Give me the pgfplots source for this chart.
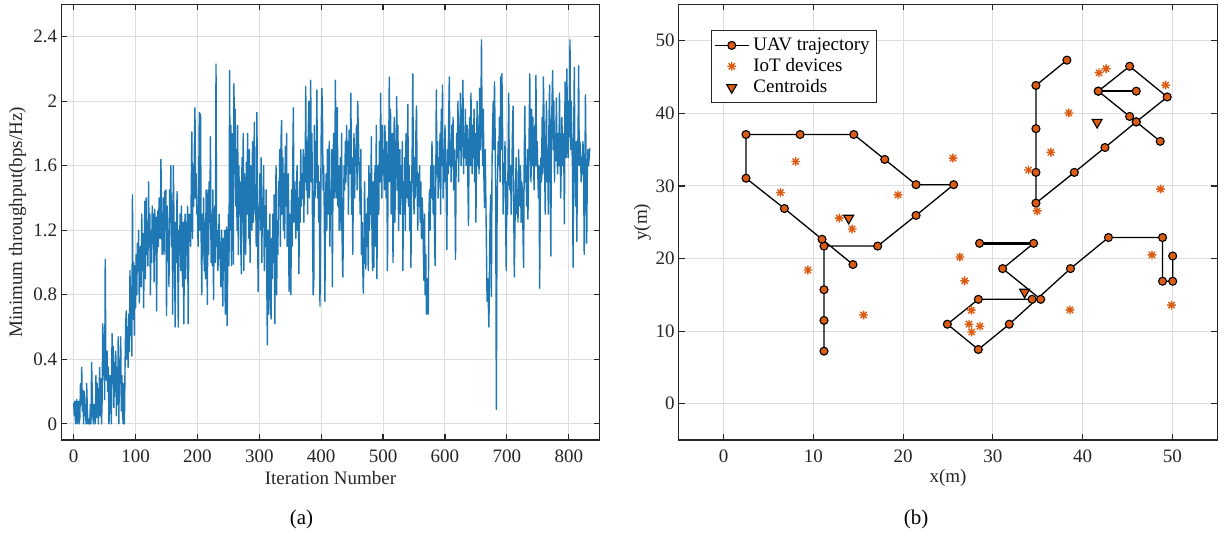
\documentclass[border=0pt]{standalone}
\usepackage{fontspec}
\setmainfont{Liberation Serif}
\usepackage{pgfplots}
\pgfplotsset{compat=1.18}
\usepackage{pgfplotstable}
\definecolor{matblue}{RGB}{31,119,180}
\definecolor{matorange}{RGB}{219,92,20}
\definecolor{axgray}{RGB}{38,38,38}
\definecolor{gridgray}{RGB}{222,222,222}

\pgfdeclareplotmark{ast8}{%
 \pgfpathmoveto{\pgfqpoint{-\pgfplotmarksize}{0pt}}\pgfpathlineto{\pgfqpoint{\pgfplotmarksize}{0pt}}%
 \pgfpathmoveto{\pgfqpoint{0pt}{-\pgfplotmarksize}}\pgfpathlineto{\pgfqpoint{0pt}{\pgfplotmarksize}}%
 \pgfpathmoveto{\pgfqpoint{-0.707\pgfplotmarksize}{-0.707\pgfplotmarksize}}\pgfpathlineto{\pgfqpoint{0.707\pgfplotmarksize}{0.707\pgfplotmarksize}}%
 \pgfpathmoveto{\pgfqpoint{-0.707\pgfplotmarksize}{0.707\pgfplotmarksize}}\pgfpathlineto{\pgfqpoint{0.707\pgfplotmarksize}{-0.707\pgfplotmarksize}}%
 \pgfusepathqstroke}

\pgfplotstableread[row sep=\\]{
y\\
0.13\\0.05\\0.14\\0\\0.08\\0.15\\0\\0.1\\0.14\\0\\
0.04\\0.25\\0.12\\0.35\\0.08\\0.21\\0\\0.2\\0.05\\0.12\\
0\\0.25\\0.1\\0\\0.03\\0\\0\\0.12\\0\\0.38\\
0.2\\0.05\\0\\0.12\\0.1\\0\\0.3\\0.04\\0.25\\0.1\\
0\\0.18\\0.35\\0.05\\0.28\\0\\0.15\\0.62\\0.3\\0.55\\
0.15\\1.02\\0.4\\0.27\\0.45\\0.2\\0.35\\0\\0.1\\0.3\\
0.18\\0\\0.56\\0.25\\0.48\\0.1\\0.38\\0.2\\0.45\\0.05\\
0.35\\0.12\\0.54\\0\\0.4\\0.25\\0.54\\0.08\\0.3\\0.06\\
0\\0.25\\0\\0.35\\0.62\\0.7\\0.4\\0.6\\0.35\\0.68\\
0.45\\0.95\\0.55\\0.85\\0.42\\1.42\\0.65\\1.0\\0.55\\0.98\\
0.72\\1.05\\0.8\\1.12\\0.95\\1.2\\0.75\\1.0\\1.1\\0.85\\
1.3\\0.95\\1.18\\0.72\\1.05\\1.38\\0.9\\1.4\\1.05\\1.25\\
0.98\\1.5\\1.1\\1.3\\0.8\\1.2\\1.0\\1.35\\1.12\\1.3\\
0.88\\1.33\\1.05\\1.28\\0.7\\1.2\\1.32\\1.1\\1.4\\1.25\\
1.15\\1.64\\1.3\\1.05\\1.15\\1.4\\1.05\\1.44\\1.2\\1.45\\
0.67\\1.35\\1.1\\1.2\\0.85\\1.45\\1.25\\1.6\\1.1\\1.38\\
0.68\\1.6\\1.3\\1.05\\0.6\\1.25\\1.0\\1.44\\1.15\\0.6\\
1.2\\1.05\\1.3\\0.95\\1.35\\1.15\\0.85\\1.25\\0.62\\1.12\\
1.3\\0.9\\1.25\\1.05\\1.35\\0.62\\1.15\\1.3\\1.2\\1.1\\
1.45\\1.81\\1.15\\1.6\\1.35\\1.7\\1.96\\1.4\\1.55\\1.3\\
1.35\\1.1\\1.45\\1.93\\1.2\\1.92\\1.15\\0.8\\1.3\\1.05\\
1.4\\0.95\\1.25\\0.9\\1.45\\1.2\\0.74\\1.45\\1.05\\1.5\\
1.25\\1.78\\1.0\\1.3\\0.98\\1.45\\0.77\\1.25\\1.35\\1.0\\
2.23\\1.1\\1.2\\0.95\\1.05\\1.3\\1.1\\1.0\\0.85\\1.2\\
1.05\\0.73\\1.15\\0.95\\1.2\\0.68\\1.1\\1.22\\0.61\\1.0\\
1.3\\0.98\\2.19\\1.2\\1.85\\0.98\\1.8\\1.4\\0.99\\2.11\\
1.55\\1.95\\1.35\\1.7\\1.2\\1.85\\1.05\\1.6\\1.3\\1.5\\
1.1\\0.93\\1.65\\1.25\\1.8\\0.95\\1.55\\1.4\\1.05\\1.62\\
1.3\\1.8\\1.5\\1.15\\1.7\\1.0\\1.6\\1.35\\1.2\\1.75\\
1.25\\1.55\\1.87\\1.3\\1.45\\1.1\\1.93\\1.45\\0.82\\1.3\\
1.3\\1.55\\1.2\\1.65\\1.0\\1.4\\1.22\\1.6\\0.95\\1.35\\
1.1\\1.45\\0.9\\0.49\\1.2\\0.68\\1.05\\1.3\\0.75\\0.65\\
1.15\\0.9\\1.3\\1.0\\1.42\\0.62\\1.2\\1.6\\0.8\\1.25\\
1.05\\1.5\\1.35\\1.7\\1.1\\1.75\\1.88\\1.3\\1.65\\1.2\\
1.55\\1.15\\1.72\\1.35\\1.8\\1.1\\1.4\\1.55\\0.82\\1.3\\
1.2\\0.8\\1.45\\1.1\\1.6\\1.96\\1.25\\1.5\\1.35\\1.15\\
1.45\\1.6\\1.2\\1.4\\0.93\\1.5\\1.25\\1.7\\1.35\\1.55\\
1.4\\1.7\\1.25\\1.65\\1.5\\2.09\\1.45\\1.75\\1.3\\1.8\\
2.0\\1.4\\1.7\\2.13\\1.5\\1.8\\1.2\\0.8\\0.87\\1.85\\
1.4\\1.75\\1.5\\2.07\\1.4\\1.6\\1.25\\1.5\\0.73\\1.3\\
1.8\\2.08\\1.95\\1.45\\1.6\\1.3\\0.76\\1.4\\1.55\\1.2\\
1.7\\1.3\\1.5\\1.75\\1.1\\1.45\\1.3\\1.7\\0.85\\1.5\\
1.8\\1.4\\1.65\\2.13\\1.4\\1.75\\1.96\\1.35\\1.6\\1.2\\
1.5\\1.65\\1.2\\1.8\\1.05\\0.91\\1.3\\1.6\\1.45\\1.75\\
1.5\\1.85\\1.6\\1.75\\1.3\\1.82\\1.55\\1.7\\2.05\\1.3\\
1.65\\1.05\\1.5\\1.8\\1.4\\1.7\\1.6\\1.85\\1.45\\2.0\\
1.8\\1.6\\1.5\\1.3\\1.7\\1.05\\1.25\\1.0\\0.81\\1.03\\
1.5\\1.25\\0.96\\1.3\\1.1\\1.4\\0.95\\1.6\\1.2\\1.55\\
1.3\\1.78\\1.2\\0.95\\1.5\\0.97\\1.35\\1.6\\1.1\\1.85\\
0.9\\1.45\\1.6\\1.3\\1.75\\1.5\\2.05\\1.6\\1.4\\1.85\\
1.55\\1.7\\1.45\\1.85\\1.6\\1.4\\1.75\\0.95\\1.5\\1.65\\
2.15\\1.5\\1.95\\1.3\\1.6\\1.8\\1.0\\1.4\\1.9\\1.25\\
1.5\\1.7\\2.03\\1.45\\1.85\\1.2\\1.55\\1.7\\1.3\\1.6\\
1.4\\1.75\\0.95\\1.5\\1.3\\1.65\\1.2\\1.8\\1.5\\1.4\\
1.98\\1.35\\1.6\\1.2\\1.5\\0.97\\1.45\\1.7\\2.17\\1.5\\
1.3\\1.65\\1.4\\1.8\\1.97\\1.5\\1.2\\1.55\\1.35\\1.6\\
1.25\\1.5\\1.15\\1.4\\1.3\\1.1\\0.89\\1.3\\0.8\\1.05\\
0.68\\0.9\\0.7\\0.68\\1.3\\1.45\\1.2\\1.6\\1.4\\1.75\\
1.5\\1.3\\1.6\\1.2\\0.98\\1.4\\2.07\\1.55\\1.75\\1.4\\
1.65\\1.5\\1.8\\1.3\\1.95\\1.6\\2.1\\1.4\\1.7\\1.5\\
1.85\\1.6\\1.45\\1.08\\1.7\\1.55\\1.9\\2.15\\1.6\\1.75\\
1.5\\1.85\\1.6\\1.9\\1.45\\1.7\\1.55\\1.02\\1.6\\1.8\\
1.65\\2.0\\1.5\\1.85\\1.7\\2.05\\1.6\\1.75\\1.9\\2.13\\
1.55\\1.8\\1.65\\1.95\\1.6\\1.7\\1.85\\1.5\\1.23\\1.75\\
1.9\\1.6\\2.05\\1.7\\1.55\\1.85\\1.65\\1.95\\1.5\\1.8\\
1.25\\1.7\\2.0\\1.6\\1.85\\1.55\\2.08\\1.7\\1.9\\2.38\\
1.8\\1.6\\1.95\\1.5\\1.34\\1.7\\1.4\\1.1\\0.76\\0.9\\
0.75\\0.6\\1.0\\1.3\\1.42\\0.79\\1.6\\1.85\\2.0\\1.7\\
2.12\\1.8\\1.4\\0.09\\1.2\\1.55\\1.75\\1.6\\1.9\\1.5\\
2.15\\1.7\\2.17\\1.85\\1.3\\1.6\\1.5\\1.75\\1.26\\0.95\\
1.5\\1.3\\1.65\\2.05\\1.5\\1.45\\1.6\\1.3\\1.55\\1.8\\
1.97\\1.4\\0.91\\1.2\\1.45\\1.65\\1.3\\1.45\\1.25\\1.7\\
1.5\\1.35\\1.6\\1.25\\1.5\\1.45\\1.2\\0.97\\1.6\\1.97\\
1.5\\1.6\\1.35\\1.7\\1.27\\1.5\\1.8\\2.17\\1.7\\1.5\\
1.95\\1.6\\1.9\\1.7\\1.45\\1.85\\1.6\\2.16\\1.6\\1.75\\
1.55\\1.4\\1.6\\0.84\\1.4\\1.65\\1.5\\1.9\\1.55\\2.15\\
1.9\\1.6\\1.3\\1.75\\2.0\\1.5\\1.7\\1.3\\1.85\\2.1\\
1.6\\1.04\\1.8\\2.0\\2.19\\1.7\\2.0\\1.5\\1.8\\1.63\\
2.02\\1.7\\1.55\\1.8\\1.6\\2.05\\1.75\\1.4\\1.65\\1.9\\
1.6\\1.8\\1.65\\1.24\\2.12\\1.8\\1.65\\2.2\\1.75\\1.65\\
2.0\\1.78\\2.38\\1.7\\2.0\\1.75\\1.6\\0.97\\1.8\\2.21\\
1.6\\1.35\\1.75\\1.13\\1.55\\1.8\\2.22\\1.6\\1.75\\1.7\\
1.5\\1.65\\1.55\\1.75\\1.6\\1.05\\1.5\\2.04\\1.6\\1.12\\
1.55\\1.7\\1.6\\1.65\\1.71\\
}\tput

\pgfplotstableread{
x y
11.18 7.24
11.18 11.47
11.18 15.70
11.18 21.71
17.16 21.71
21.44 25.94
25.63 30.17
21.44 30.17
17.95 33.65
14.50 37.08
8.52 37.08
2.49 37.08
2.49 31.06
6.77 26.88
10.96 22.65
14.41 19.17
}\trajA

\pgfplotstableread{
x y
28.52 22.09
34.54 22.09
31.09 18.61
35.33 14.38
34.37 14.38
28.38 14.38
24.93 10.95
28.38 7.47
31.83 10.95
38.65 18.61
42.88 22.89
48.91 22.89
48.91 16.87
50.04 16.87
50.04 20.35
}\trajB

\pgfplotstableread{
x y
48.65 36.14
45.98 38.82
45.24 39.57
41.75 43.05
45.98 43.05
41.75 43.05
45.24 46.48
49.43 42.25
45.98 38.82
42.49 35.29
39.08 31.86
34.80 27.63
34.80 31.86
34.80 37.88
34.80 43.84
38.25 47.32
}\trajC

\pgfplotstableread{
x y
8.03 33.36
6.33 29.09
12.88 25.56
14.32 24.06
19.43 28.76
25.55 33.83
9.39 18.42
15.59 12.22
26.33 20.21
26.86 16.92
27.60 12.88
27.34 10.95
28.56 10.67
27.64 9.87
38.60 12.92
47.73 20.49
49.91 13.58
33.97 32.19
34.93 26.55
36.46 34.63
38.47 40.04
41.83 45.58
42.62 46.15
49.26 43.89
48.69 29.56
}\iot

\pgfplotstableread{
x y
13.93 25.56
33.54 15.37
41.62 38.77
}\cent

\pgfplotsset{matstyle/.style={
  scale only axis, width=269.2pt, height=217.8pt,
  axis line style={axgray, line width=0.6pt},
  tick style={axgray, line width=0.6pt},
  tick align=inside, major tick length=3pt,
  xtick pos=both, ytick pos=both,
  grid=major, major grid style={gridgray, line width=0.5pt},
  ticklabel style={font=\fontsize{9.5}{11}\selectfont, text=axgray},
  xticklabel style={yshift=-1.5pt},
  yticklabel style={xshift=1.5pt},
  label style={font=\fontsize{9.5}{11}\selectfont, text=axgray},
  /pgf/number format/assume math mode=true,
}}

\begin{document}
\begin{tikzpicture}
\begin{axis}[matstyle, name=A,
  xmin=-20, xmax=850, ymin=-0.1, ymax=2.6,
  xtick={0,100,...,800},
  ytick={0,0.4,0.8,1.2,1.6,2,2.4},
  yticklabels={0,0.4,0.8,1.2,1.6,2,2.4},
  xlabel={Iteration Number},
  ylabel={Minimum throughput(bps/Hz)},
  xlabel style={at={(axis description cs:0.5,0)}, anchor=center, yshift=-19pt},
  ylabel style={at={(axis description cs:0,0.5)}, anchor=center, yshift=21.8pt}]
\addplot[matblue, line width=0.7pt, line join=round] table[x expr=\coordindex, y=y]{\tput};
\end{axis}

\begin{axis}[matstyle, name=B, at={(308.75pt,0pt)}, anchor=south west,
  xmin=-5, xmax=55, ymin=-5, ymax=55,
  xtick={0,10,...,50}, ytick={0,10,...,50},
  xlabel={x(m)}, ylabel={y(m)},
  xlabel style={at={(axis description cs:0.5,0)}, anchor=center, yshift=-19pt},
  ylabel style={at={(axis description cs:0,0.5)}, anchor=center, yshift=18.2pt},
  legend style={at={(0.059,0.941)}, anchor=north west, draw=axgray, line width=0.5pt,
    font=\fontsize{9.5}{11}\selectfont, inner sep=1.5pt, row sep=-1.5pt,
    cells={anchor=west}},
  legend image post style={line width=0.6pt}]
\addplot[black, line width=1.2pt, forget plot] coordinates {(28.52,22.09) (34.54,22.09)};
\addplot[black, line width=1.2pt, forget plot] coordinates {(41.75,43.05) (45.98,43.05)};
\addplot[black, line width=0.65pt, mark=*, mark size=2pt,
  mark options={solid, fill=matorange, draw=black, line width=0.55pt}] table[x=x,y=y]{\trajA};
\addlegendentry{UAV trajectory}
\addplot[black, line width=0.65pt, mark=*, mark size=2pt, forget plot,
  mark options={solid, fill=matorange, draw=black, line width=0.55pt}] table[x=x,y=y]{\trajB};
\addplot[black, line width=0.65pt, mark=*, mark size=2pt, forget plot,
  mark options={solid, fill=matorange, draw=black, line width=0.55pt}] table[x=x,y=y]{\trajC};
\addplot[only marks, mark=ast8, mark size=2.2pt, matorange, mark options={line width=0.7pt}] table[x=x,y=y]{\iot};
\addlegendentry{IoT devices}
\addplot[only marks, mark=triangle*, mark size=2.9pt,
  mark options={rotate=180, fill=matorange, draw=black, line width=0.55pt}] table[x=x,y=y]{\cent};
\addlegendentry{Centroids}
\end{axis}

\node[font=\fontsize{10.5}{12}\selectfont, text=black] at ([xshift=-14.5pt, yshift=-39.5pt]A.south) {(a)};
\node[font=\fontsize{10.5}{12}\selectfont, text=black] at ([xshift=-16pt, yshift=-39.5pt]B.south) {(b)};
\pgfresetboundingbox
\path[use as bounding box] ([xshift=-30.65pt, yshift=-47.5pt]A.south west) rectangle ++(612.5pt,267.5pt);
\end{tikzpicture}
\end{document}
